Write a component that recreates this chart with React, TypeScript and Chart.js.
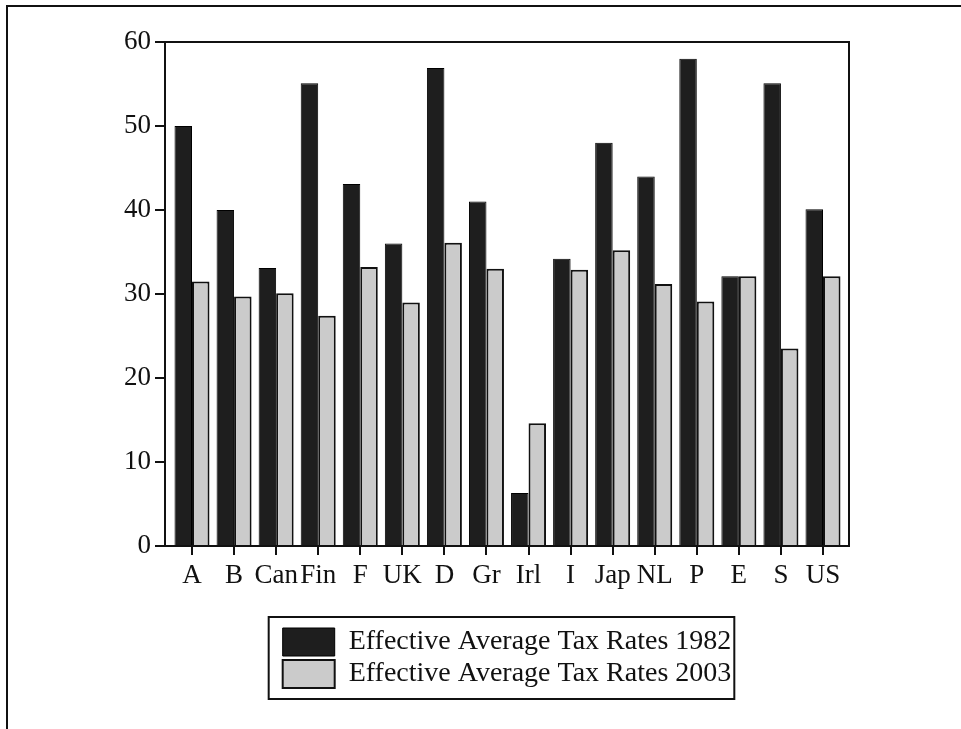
import React, { useEffect, useRef } from "react";
import { Chart, registerables } from "chart.js";

Chart.register(...registerables);

const categories = ["A", "B", "Can", "Fin", "F", "UK", "D", "Gr", "Irl", "I", "Jap", "NL", "P", "E", "S", "US"];
const rates1982 = [50, 40, 33.1, 55.1, 43.1, 36, 56.9, 41, 6.3, 34.2, 48, 44, 58, 32.1, 55.1, 40.1];
const rates2003 = [31.5, 29.7, 30.1, 27.4, 33.2, 29, 36.1, 33, 14.6, 32.9, 35.2, 31.2, 29.1, 32.1, 23.5, 32.1];
const yTicks = [0, 10, 20, 30, 40, 50, 60];
const seriesNames = ["Effective Average Tax Rates 1982", "Effective Average Tax Rates 2003"];

const FONT = "'Liberation Serif', 'DejaVu Serif', serif";
const INK = "#111";

const framePlugin = {
  id: "frames",
  afterDraw(chart: any) {
    const { ctx, chartArea: a } = chart;
    ctx.save();
    ctx.strokeStyle = INK;
    ctx.lineWidth = 2;
    ctx.strokeRect(a.left, a.top, a.right - a.left, a.bottom - a.top);
    const hb = chart.legend && chart.legend.legendHitBoxes;
    if (hb && hb.length) {
      const l = Math.min(...hb.map((h: any) => h.left)) - 14;
      const r = Math.max(...hb.map((h: any) => h.left + h.width)) + 3;
      const t = Math.min(...hb.map((h: any) => h.top)) - 11;
      const b = Math.max(...hb.map((h: any) => h.top + h.height)) + 11;
      ctx.strokeRect(l, t, r - l, b - t);
    }
    ctx.beginPath();
    ctx.moveTo(7, chart.height);
    ctx.lineTo(7, 6);
    ctx.lineTo(chart.width, 6);
    ctx.stroke();
    ctx.restore();
  },
};

export default function App() {
  const ref = useRef<HTMLCanvasElement | null>(null);

  useEffect(() => {
    document.body.style.margin = "0";
    const canvas = ref.current;
    if (!canvas) return;
    const chart = new Chart(canvas, {
      type: "bar",
      data: {
        datasets: [
          {
            label: seriesNames[0],
            data: rates1982.map((v, i) => ({ x: i, y: v })),
            backgroundColor: "#1e1e1e",
            borderColor: "#000",
            borderWidth: 1,
            categoryPercentage: 0.832,
            barPercentage: 1,
          },
          {
            label: seriesNames[1],
            data: rates2003.map((v, i) => ({ x: i, y: v })),
            backgroundColor: "#cbcbcb",
            borderColor: INK,
            borderWidth: 2,
            categoryPercentage: 0.832,
            barPercentage: 1,
          },
        ] as any,
      },
      options: {
        animation: false,
        responsive: false,
        devicePixelRatio: 1,
        layout: { padding: { top: 42, right: 112, bottom: 31, left: 0 } },
        scales: {
          x: {
            type: "linear",
            min: -0.642,
            max: 15.618,
            offset: false,
            afterBuildTicks: (s: any) => {
              s.ticks = categories.map((_, i) => ({ value: i }));
            },
            afterFit: (s: any) => {
              s.height = 78;
            },
            grid: { drawOnChartArea: false, drawTicks: true, tickLength: 9, color: INK, lineWidth: 2, offset: false },
            border: { display: false },
            ticks: {
              autoSkip: false,
              maxRotation: 0,
              padding: 5,
              color: INK,
              font: { family: FONT, size: 27 },
              callback: (v: any) => categories[v] ?? "",
            },
          },
          y: {
            min: 0,
            max: 60,
            afterBuildTicks: (s: any) => {
              s.ticks = yTicks.map((v) => ({ value: v }));
            },
            afterFit: (s: any) => {
              s.width = 165;
            },
            grid: { drawOnChartArea: false, drawTicks: true, tickLength: 10, color: INK, lineWidth: 2 },
            border: { display: false },
            ticks: { padding: 4, color: INK, font: { family: FONT, size: 27 } },
          },
        },
        plugins: {
          tooltip: { enabled: false },
          legend: {
            position: "bottom",
            fullSize: false,
            labels: {
              boxWidth: 52,
              boxHeight: 28,
              padding: 4,
              color: INK,
              font: { family: FONT, size: 28 },
            },
          },
        },
      } as any,
      plugins: [framePlugin],
    });
    return () => chart.destroy();
  }, []);

  return (
    <div style={{ width: 961, height: 729, background: "#fff" }}>
      <canvas ref={ref} width={961} height={729} style={{ display: "block" }} />
    </div>
  );
}
